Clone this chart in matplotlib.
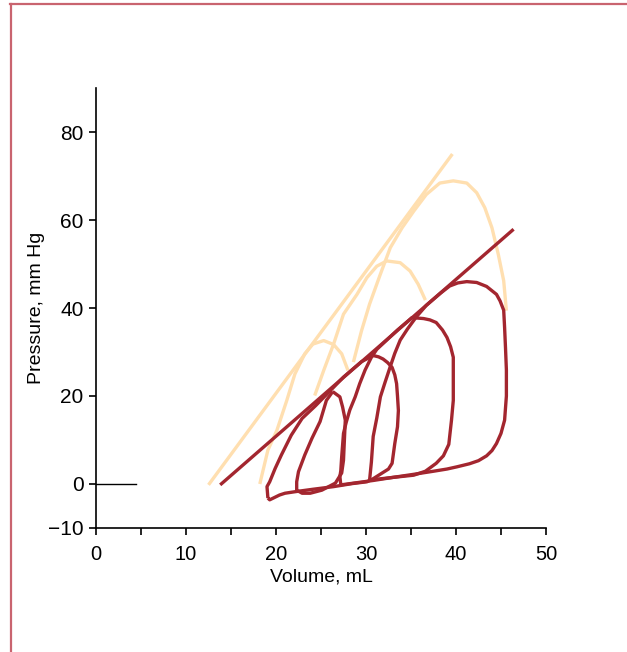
import matplotlib
matplotlib.use("Agg")
import matplotlib.pyplot as plt
from matplotlib.lines import Line2D

plt.rcParams['font.family'] = ['Liberation Sans', 'DejaVu Sans']

DARK = '#a3262f'
PEACH = '#ffdfb0'
FRAME = '#c9646f'

# end-systolic pressure-volume lines (volume, pressure)
espvr_base_v = [12.5, 39.6]
espvr_base_p = [-0.2, 75.0]
espvr_drug_v = [13.8, 46.4]
espvr_drug_p = [-0.2, 57.9]

# baseline loops (top parts only, light colour)
arc1_v = [18.2, 19.1, 20.1, 21.2, 22.1, 23.2, 24.1, 25.3, 26.4, 27.3, 28.0]
arc1_p = [0.0, 7.7, 12.2, 19.0, 25.0, 29.6, 31.8, 32.6, 31.7, 29.6, 25.8]

arc2_v = [24.3, 25.3, 26.4, 27.5, 29.0, 30.1, 31.2, 32.3, 33.8, 34.9, 35.8, 36.6]
arc2_p = [20.1, 25.8, 31.8, 38.6, 43.1, 46.9, 49.5, 50.7, 50.3, 48.4, 45.4, 41.8]

arc3_v = [28.6, 29.5, 30.4, 31.6, 32.7, 34.0, 35.3, 36.7, 38.2, 39.7, 41.2,
          42.3, 43.2, 44.0, 44.7, 45.3, 45.6]
arc3_p = [27.7, 34.8, 40.9, 47.7, 53.7, 58.2, 62.0, 65.8, 68.4, 68.9, 68.4,
          66.2, 62.8, 58.2, 52.2, 46.2, 39.4]

# loops after intervention (dark)
loop1_v = [30.4, 33.0, 35.3, 37.5, 39.0, 40.1, 41.5, 42.5, 43.4, 44.0, 44.5, 45.0,
           45.4, 45.6, 45.6, 45.5, 45.4, 45.3, 44.9, 44.5, 43.4, 42.3, 41.2,
           40.2, 39.3, 38.3, 36.7, 35.6, 34.6, 33.8, 33.2, 32.7, 32.1, 31.6,
           31.2, 30.8, 30.6, 30.4]
loop1_p = [0.9, 1.5, 2.2, 2.9, 3.4, 3.9, 4.6, 5.3, 6.4, 7.6, 9.2, 11.5,
           14.5, 20.0, 25.9, 31.0, 35.6, 39.5, 41.6, 43.1, 44.9, 45.8, 46.0,
           45.7, 45.0, 43.4, 40.6, 38.0, 35.2, 32.7, 29.7, 26.7, 23.0, 19.8,
           15.0, 10.8, 5.0, 0.9]

loop2_v = [27.2, 29.0, 30.8, 33.0, 35.3, 36.6, 37.8, 38.6, 39.2, 39.5, 39.7,
           39.7, 39.7, 39.4, 39.0, 38.5, 37.8, 37.1, 36.4, 35.8, 35.1, 33.5,
           31.2, 30.6, 29.9, 29.3, 28.8, 28.2, 27.8, 27.5, 27.3, 27.2, 27.1, 27.2]
loop2_p = [-0.2, 0.3, 0.8, 1.5, 2.0, 2.9, 4.7, 6.4, 9.0, 14.5, 19.0,
           23.5, 28.8, 31.2, 33.3, 35.0, 36.7, 37.3, 37.6, 37.7, 37.8, 35.0,
           30.6, 28.8, 25.9, 22.8, 19.8, 16.8, 14.0, 11.5, 6.2, 3.0, 1.7, -0.2]

loop3_v = [19.1, 19.3, 20.4, 21.0, 22.3, 24.1, 26.4, 28.5, 30.1, 30.8, 31.8,
           32.5, 32.9, 33.2, 33.5, 33.6, 33.5, 33.4, 33.2, 32.9, 32.4, 31.9,
           31.4, 30.8, 29.5, 27.5, 25.6, 24.4, 22.9, 21.7, 20.6, 19.9, 19.3,
           19.0, 19.1]
loop3_p = [-3.2, -3.6, -2.5, -2.1, -1.7, -1.2, -0.6, 0.1, 0.5, 1.2, 2.5,
           3.4, 4.7, 9.2, 13.0, 16.7, 20.0, 22.8, 24.8, 26.5, 27.6, 28.4,
           28.9, 29.2, 27.8, 24.3, 20.3, 17.8, 14.9, 11.1, 6.6, 3.5, 0.5,
           -0.6, -3.2]

loop4_v = [26.3, 27.1, 27.4, 27.7, 27.6, 27.5, 27.3, 26.6, 25.1, 23.8, 22.9,
           22.3, 22.3, 22.5, 23.2, 24.0, 24.9, 25.6, 26.3]
loop4_p = [21.0, 19.8, 17.5, 14.5, 10.0, 5.4, 2.5, 0.2, -1.4, -2.1, -2.1,
           -1.4, 0.5, 2.8, 6.6, 10.4, 14.2, 19.0, 21.0]

fig = plt.figure(figsize=(6.27, 6.52), dpi=100)
ax = fig.add_axes([0.1531, 0.1902, 0.7177, 0.6748])

kw = dict(lw=2.4, solid_joinstyle='round', solid_capstyle='butt')
ax.plot(espvr_base_v, espvr_base_p, color=PEACH, **kw)
for v, p in [(arc1_v, arc1_p), (arc2_v, arc2_p), (arc3_v, arc3_p)]:
    ax.plot(v, p, color=PEACH, **kw)

for v, p in [(loop1_v, loop1_p), (loop2_v, loop2_p), (loop3_v, loop3_p), (loop4_v, loop4_p)]:
    ax.plot(v, p, color=DARK, **kw)
ax.plot(espvr_drug_v, espvr_drug_p, color=DARK, **kw)

# short reference line at zero pressure
ax.plot([0, 4.5], [0, 0], color='black', lw=1.0)

ax.set_xlim(0, 50)
ax.set_ylim(-10, 90)
ax.set_xticks(range(0, 51, 5))
ax.set_xticklabels(['0', '', '10', '', '20', '', '30', '', '40', '', '50'])
ax.set_yticks([-10, 0, 20, 40, 60, 80])
ax.set_yticklabels(['\u221210', '0', '20', '40', '60', '80'])
ax.spines['top'].set_visible(False)
ax.spines['right'].set_visible(False)
for s in ['left', 'bottom']:
    ax.spines[s].set_linewidth(1.2)
ax.tick_params(axis='both', direction='out', length=5, width=1.2)
ax.tick_params(axis='x', pad=7, labelsize=14.5)
ax.tick_params(axis='y', pad=4, labelsize=15)
ax.set_xlabel('Volume, mL', fontsize=14)
ax.set_ylabel('Pressure, mm Hg', fontsize=14)
ax.xaxis.set_label_coords(0.5, -0.093)
ax.yaxis.set_label_coords(-0.113, 0.5)

# frame lines along the top and left edge
fig.add_artist(Line2D([10.5 / 627, 10.5 / 627], [0, 1 - 4 / 652],
                      transform=fig.transFigure, color=FRAME, lw=1.6))
fig.add_artist(Line2D([10 / 627, 1], [1 - 4 / 652, 1 - 4 / 652],
                      transform=fig.transFigure, color=FRAME, lw=1.6))

fig.savefig('out.png', dpi=100)
